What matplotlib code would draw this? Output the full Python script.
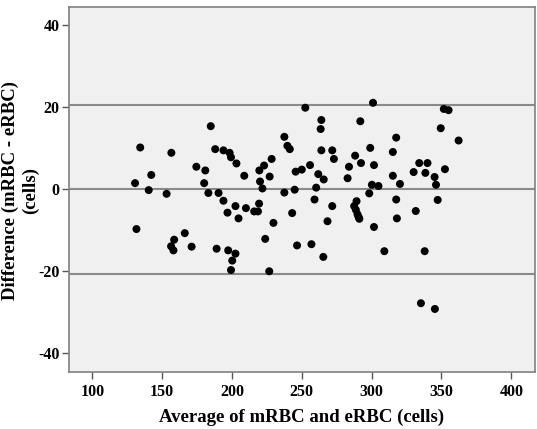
import matplotlib
matplotlib.use("Agg")
import matplotlib.pyplot as plt

# Bland-Altman: mean of the two counts vs their difference
avg_cells = [130.6, 131.6, 134.3, 140.4, 142.2, 153.2, 156.6, 156.4, 158.1, 158.6,
             166.2, 171.1, 174.5, 180.9, 180.1, 183.1, 184.8, 188.0, 189.0, 190.4,
             193.9, 193.9, 196.8, 198.3, 199.3, 197.3, 200.2, 199.3, 202.5, 202.5,
             203.2, 204.7, 208.8, 210.0, 215.9, 218.6, 219.6, 219.4, 220.1, 221.8,
             223.0, 223.8, 227.0, 226.7, 228.4, 229.7, 237.5, 237.5, 239.7, 241.4,
             243.1, 244.9, 245.6, 246.6, 250.0, 252.5, 255.9, 256.9, 259.1, 260.3,
             261.8, 264.0, 263.5, 264.0, 265.7, 265.4, 268.4, 271.8, 271.8, 273.0,
             282.8, 283.8, 288.2, 287.5, 289.2, 288.7, 289.9, 290.7, 291.2, 291.9,
             292.4, 298.3, 299.0, 301.0, 300.2, 301.7, 301.7, 304.9, 309.1, 315.2,
             315.2, 317.6, 317.6, 318.1, 320.3, 330.1, 331.6, 334.1, 335.3, 338.0,
             338.5, 340.0, 345.1, 346.1, 347.3, 345.3, 349.5, 351.7, 355.1, 352.5,
             362.3]
diff_cells = [1.5, -9.7, 10.2, -0.2, 3.5, -1.1, 8.9, -13.9, -14.9, -12.3,
              -10.7, -14.0, 5.5, 4.6, 1.5, -0.9, 15.4, 9.8, -14.5, -0.9,
              9.5, -2.8, -5.7, 8.9, 7.8, -14.9, -17.4, -19.7, -15.7, -4.1,
              6.3, -7.1, 3.3, -4.6, -5.4, -5.4, 4.6, -3.5, 1.9, 0.2,
              5.8, -12.1, 3.1, -20.0, 7.4, -8.2, 12.8, -0.8, 10.6, 9.8,
              -5.8, -0.1, 4.3, -13.7, 4.8, 19.9, 5.9, -13.4, -2.5, 0.4,
              3.7, 16.9, 14.7, 9.5, 2.4, -16.5, -7.8, 9.5, -4.1, 7.4,
              2.7, 5.5, 8.2, -4.1, -2.9, -5.0, -6.1, -6.8, -7.2, 16.6,
              6.4, -1.0, 10.1, 21.1, 1.1, 5.9, -9.2, 0.8, -15.1, 9.1,
              3.3, 12.6, -2.5, -7.1, 1.3, 4.2, -5.3, 6.4, -27.8, -15.1,
              4.0, 6.4, 3.0, 1.1, -2.6, -29.2, 14.9, 19.6, 19.3, 4.9,
              11.9]

mean_diff = 0.0
upper_loa = 20.5
lower_loa = -20.6

x_ticks = [100, 150, 200, 250, 300, 350, 400]
y_ticks = [-40, -20, 0, 20, 40]

plt.rcParams["font.family"] = ["Liberation Serif", "DejaVu Serif"]
plt.rcParams["font.weight"] = "bold"
plt.rcParams["axes.unicode_minus"] = False

fig = plt.figure(figsize=(5.37, 4.29), dpi=100)
ax = fig.add_axes([0.129, 0.1336, 0.8673, 0.8494])
ax.set_facecolor("#f0f0f0")

for yv in [upper_loa, mean_diff, lower_loa]:
    ax.axhline(yv, color="#8a8a8a", linewidth=1.5, zorder=1)

ax.scatter(avg_cells, diff_cells, s=33, color="black", edgecolors="none", zorder=3)

ax.set_xlim(83.5, 417)
ax.set_ylim(-44.5, 44.4)
ax.set_xticks(x_ticks)
ax.set_yticks(y_ticks)
ax.set_xticklabels([str(v) for v in x_ticks], fontsize=11.5, fontweight="bold")
ax.set_yticklabels([str(v) for v in y_ticks], fontsize=11.5, fontweight="bold")
ax.tick_params(direction="out", length=5, width=1, color="#555555", pad=2)
ax.tick_params(axis="x", pad=4)

for sp in ax.spines.values():
    sp.set_color("#808080")
    sp.set_linewidth(1.2)

# axis titles placed by hand to sit where the original has them
fig.text(302 / 537, 1 - 417 / 429, "Average of mRBC and eRBC (cells)",
         ha="center", va="center", fontsize=13.5, fontweight="bold")
fig.text(10 / 537, 1 - 190 / 429, "Difference (mRBC - eRBC)", rotation=90,
         ha="center", va="center", fontsize=13.5, fontweight="bold")
fig.text(30 / 537, 1 - 190 / 429, "(cells)", rotation=90,
         ha="center", va="center", fontsize=13.5, fontweight="bold")

fig.savefig("out.png", dpi=100)
